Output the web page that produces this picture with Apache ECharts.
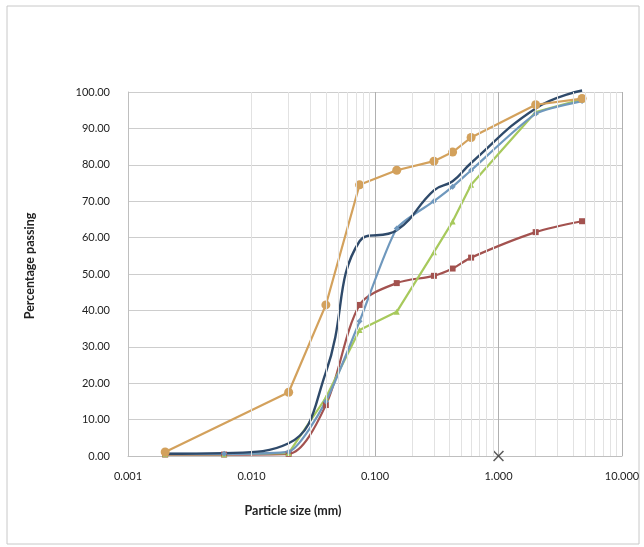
<!DOCTYPE html>
<html>
<head>
<meta charset="utf-8">
<script src="https://cdn.jsdelivr.net/npm/echarts@6/dist/echarts.min.js"></script>
<style>
html,body{margin:0;padding:0;background:#fff;}
#c{width:644px;height:547px;}
</style>
</head>
<body>
<div id="c"></div>
<script>
// Particle sizes (mm)
const sizes = [0.002, 0.006, 0.02, 0.04, 0.075, 0.15, 0.3, 0.425, 0.6, 2.0, 4.75];
// Percentage passing per sample
const orangeVals = [1.1, null, 17.5, 41.5, 74.5, 78.5, 81.0, 83.5, 87.5, 96.5, 98.2];
const navyVals   = [0.6, 0.8, 3.5, 23.0, 59.0, 62.0, 73.0, 75.5, 80.5, 95.5, 100.4];
const tealVals   = [0.6, 0.6, 1.2, 15.0, 37.0, 62.5, 70.0, 74.0, 78.5, 94.0, 97.5];
const redVals    = [0.4, 0.4, 0.6, 14.0, 41.5, 47.5, 49.5, 51.5, 54.5, 61.5, 64.5];
const greenVals  = [0.5, 0.5, 0.8, 16.0, 34.6, 39.6, 56.0, 64.4, 74.5, 94.5, 98.0];
// single cross marker
const crossPoint = [[1.0, 0]];
// axis ticks
const xTicks = [0.001, 0.01, 0.1, 1, 10];
const yTicks = [0, 10, 20, 30, 40, 50, 60, 70, 80, 90, 100];
const minorSteps = [2, 3, 4, 5, 6, 7, 8, 9];

const minorGrid = [];
for (let i = 0; i < xTicks.length - 1; i++) {
  for (const k of minorSteps) minorGrid.push(+(k * xTicks[i]).toPrecision(3));
}
const pairs = vals => sizes.map((s, i) => [s, vals[i]]);
const FONT = 'Lato';

const chart = echarts.init(document.getElementById('c'), null, {renderer: 'canvas'});
chart.setOption({
  animation: false,
  backgroundColor: '#fff',
  grid: {left: 128, right: 22, top: 92, bottom: 91},
  xAxis: {
    type: 'log', logBase: 10, min: xTicks[0], max: xTicks[xTicks.length - 1],
    axisLine: {show: true, lineStyle: {color: '#bfbfbf', width: 1}},
    axisTick: {show: false},
    axisLabel: {color: '#222', fontFamily: FONT, fontSize: 11, margin: 15,
      formatter: v => Number(v).toFixed(3)},
    splitLine: {show: true, lineStyle: {color: '#b0b0b0', width: 1}}
  },
  yAxis: {
    type: 'value', min: yTicks[0], max: yTicks[yTicks.length - 1], interval: 10,
    axisLine: {show: true, lineStyle: {color: '#bfbfbf', width: 1}},
    axisTick: {show: false},
    axisLabel: {color: '#222', fontFamily: FONT, fontSize: 11, margin: 18,
      formatter: v => Number(v).toFixed(2)},
    splitLine: {show: true, lineStyle: {color: '#cdcdcd', width: 1}}
  },
  graphic: [
    {type: 'rect', shape: {x: 7, y: 6, width: 632, height: 538},
      style: {fill: 'none', stroke: '#c8c8c8', lineWidth: 1}, z: -1},
    {type: 'text', x: 293, y: 511,
      style: {text: 'Particle size (mm)', font: 'bold 12.5px ' + FONT, fill: '#222',
        textAlign: 'center', textVerticalAlign: 'middle'}},
    {type: 'text', x: 30, y: 266, rotation: Math.PI / 2,
      style: {text: 'Percentage passing', font: 'bold 12.5px ' + FONT, fill: '#222',
        textAlign: 'center', textVerticalAlign: 'middle'}}
  ],
  series: [
    {type: 'line', data: [], silent: true, z: 0,
      markLine: {silent: true, symbol: 'none', label: {show: false},
        lineStyle: {color: '#e2e2e2', width: 1, type: 'solid'},
        data: minorGrid.map(v => ({xAxis: v}))}},
    {name: 'Red', type: 'line', data: pairs(redVals), smooth: 0.3, clip: false,
      symbol: 'rect', symbolSize: 6, lineStyle: {color: '#a3524f', width: 2.2},
      itemStyle: {color: '#a3524f'}},
    {name: 'Green', type: 'line', data: pairs(greenVals), clip: false,
      symbol: 'triangle', symbolSize: 6, lineStyle: {color: '#a7c95c', width: 2.2},
      itemStyle: {color: '#a7c95c'}},
    {name: 'Teal', type: 'line', data: pairs(tealVals), smooth: 0.2, clip: false,
      symbol: 'diamond', symbolSize: 6, lineStyle: {color: '#6f98bd', width: 2.2},
      itemStyle: {color: '#6f98bd'}},
    {name: 'Navy', type: 'line', data: pairs(navyVals), smooth: 0.45, clip: false,
      showSymbol: false, symbol: 'none', lineStyle: {color: '#2f4a6a', width: 2.4}},
    {name: 'Orange', type: 'line', data: pairs(orangeVals), connectNulls: true, clip: false,
      symbol: 'circle', symbolSize: 9, lineStyle: {color: '#d3a15c', width: 2.2},
      itemStyle: {color: '#d3a15c'}},
    {name: 'Cross', type: 'scatter', data: crossPoint, clip: false,
      symbol: 'path://M0,1 L1,0 L5,4 L9,0 L10,1 L6,5 L10,9 L9,10 L5,6 L1,10 L0,9 L4,5 Z',
      symbolSize: 11, itemStyle: {color: '#333'}}
  ]
});
</script>
</body>
</html>
